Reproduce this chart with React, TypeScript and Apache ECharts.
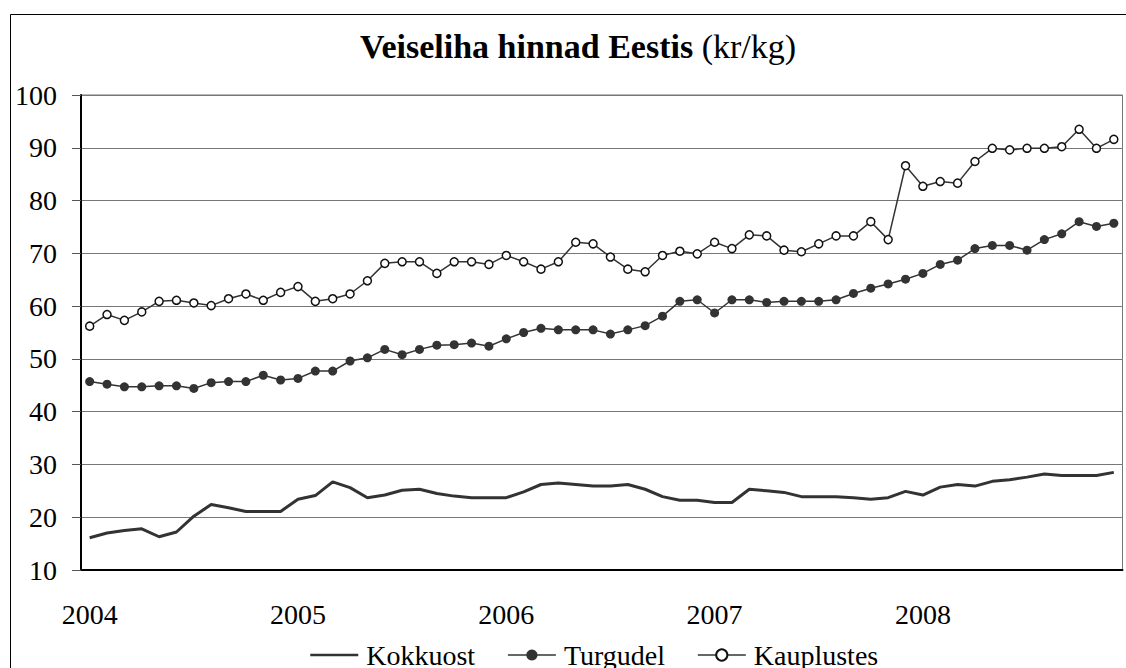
import React, { useEffect, useRef } from "react";
import * as echarts from "echarts";

const years = ["2004", "2005", "2006", "2007", "2008"];
const months = ["01", "02", "03", "04", "05", "06", "07", "08", "09", "10", "11", "12"];
const categories: string[] = [];
years.forEach((y) => months.forEach((m) => categories.push(`${y}-${m}`)));

const yTicks = { min: 10, max: 100, interval: 10 };

const kokkuost = [
  16.1, 17.0, 17.5, 17.8, 16.3, 17.2, 20.2, 22.4, 21.8, 21.1, 21.1, 21.1,
  23.4, 24.1, 26.7, 25.6, 23.7, 24.2, 25.1, 25.3, 24.5, 24.0, 23.7, 23.7,
  23.7, 24.8, 26.2, 26.5, 26.2, 25.9, 25.9, 26.2, 25.3, 23.9, 23.2, 23.2,
  22.8, 22.8, 25.3, 25.0, 24.7, 23.9, 23.9, 23.9, 23.7, 23.4, 23.7, 24.9,
  24.2, 25.7, 26.2, 25.9, 26.8, 27.1, 27.6, 28.2, 27.9, 27.9, 27.9, 28.5,
];
const turgudel = [
  45.7, 45.2, 44.7, 44.7, 44.9, 44.9, 44.4, 45.5, 45.7, 45.7, 46.9, 46.0,
  46.3, 47.7, 47.7, 49.6, 50.2, 51.8, 50.8, 51.8, 52.6, 52.7, 53.0, 52.4,
  53.8, 55.0, 55.8, 55.5, 55.5, 55.5, 54.7, 55.5, 56.3, 58.1, 60.9, 61.2,
  58.7, 61.2, 61.2, 60.7, 60.9, 60.9, 60.9, 61.2, 62.4, 63.4, 64.2, 65.1,
  66.2, 67.9, 68.7, 70.9, 71.5, 71.5, 70.6, 72.6, 73.7, 76.0, 75.1, 75.7,
];
const kauplustes = [
  56.2, 58.4, 57.3, 58.9, 60.9, 61.1, 60.6, 60.1, 61.4, 62.3, 61.1, 62.6,
  63.7, 60.9, 61.4, 62.3, 64.8, 68.1, 68.4, 68.4, 66.2, 68.4, 68.4, 67.9,
  69.6, 68.4, 67.0, 68.4, 72.1, 71.8, 69.3, 67.0, 66.5, 69.6, 70.4, 69.9,
  72.1, 70.9, 73.5, 73.3, 70.6, 70.3, 71.8, 73.3, 73.3, 76.0, 72.6, 86.6,
  82.7, 83.6, 83.3, 87.4, 89.9, 89.6, 89.9, 89.9, 90.2, 93.5, 89.9, 91.6,
];

const FONT = "Liberation Serif";

export default function App() {
  const ref = useRef<HTMLDivElement>(null);
  useEffect(() => {
    if (!ref.current) return;
    const chart = echarts.init(ref.current, null, { renderer: "svg" });
    chart.setOption({
      animation: false,
      backgroundColor: "#ffffff",
      textStyle: { fontFamily: FONT },
      title: {
        text: "{b|Veiseliha hinnad Eestis} {n|(kr/kg)}",
        left: 360,
        top: 29,
        padding: 0,
        textStyle: {
          fontFamily: FONT,
          fontSize: 34,
          rich: {
            b: { fontFamily: FONT, fontSize: 34, fontWeight: "bold", color: "#000" },
            n: { fontFamily: FONT, fontSize: 34, fontWeight: "normal", color: "#000" },
          },
        },
      },
      graphic: [
        {
          type: "rect",
          shape: { x: 10.5, y: 14.5, width: 1300, height: 800 },
          style: { fill: "none", stroke: "#000", lineWidth: 1 },
          silent: true,
        },
      ],
      legend: {
        left: 309,
        top: 641,
        padding: 0,
        itemWidth: 48,
        itemHeight: 14,
        itemGap: 32,
        textStyle: { fontFamily: FONT, fontSize: 28, color: "#000", padding: [0, 0, 0, 3] },
        data: [
          { name: "Kokkuost", itemStyle: { opacity: 0 }, lineStyle: { width: 2.5 } },
          { name: "Turgudel", lineStyle: { width: 1.5 } },
          { name: "Kauplustes", lineStyle: { width: 1.5 } },
        ],
      },
      grid: {
        left: 81,
        right: 3.5,
        top: 95,
        bottom: 98,
        show: true,
        borderColor: "#777",
        borderWidth: 1,
      },
      xAxis: {
        type: "category",
        data: categories,
        boundaryGap: true,
        axisLine: { lineStyle: { color: "#000", width: 2 } },
        axisTick: { interval: 11, length: 8, lineStyle: { color: "#000", width: 1 } },
        axisLabel: {
          interval: 11,
          formatter: (v: string) => v.slice(0, 4),
          fontFamily: FONT,
          fontSize: 28,
          color: "#000",
          margin: 30,
        },
        splitLine: { show: false },
      },
      yAxis: {
        type: "value",
        min: yTicks.min,
        max: yTicks.max,
        interval: yTicks.interval,
        axisLine: { show: true, lineStyle: { color: "#000", width: 2 } },
        axisTick: { show: true, length: 9, lineStyle: { color: "#555", width: 1 } },
        axisLabel: { fontFamily: FONT, fontSize: 28, color: "#000", margin: 24 },
        splitLine: { lineStyle: { color: "#777", width: 1 } },
      },
      series: [
        {
          name: "Kokkuost",
          type: "line",
          data: kokkuost,
          symbol: "none",
          lineStyle: { color: "#333", width: 3 },
          itemStyle: { color: "#333" },
          z: 3,
        },
        {
          name: "Turgudel",
          type: "line",
          data: turgudel,
          symbol: "circle",
          symbolSize: 9,
          lineStyle: { color: "#333", width: 1.5 },
          itemStyle: { color: "#333", borderColor: "#333", borderWidth: 0 },
          z: 4,
        },
        {
          name: "Kauplustes",
          type: "line",
          data: kauplustes,
          symbol: "circle",
          symbolSize: 8,
          showAllSymbol: true,
          lineStyle: { color: "#333", width: 1.5 },
          itemStyle: { color: "#fff", borderColor: "#111", borderWidth: 1.5 },
          z: 5,
        },
      ],
    });
    return () => chart.dispose();
  }, []);
  return (
    <div
      ref={ref}
      style={{ position: "fixed", left: 0, top: 0, width: 1126, height: 668, background: "#fff" }}
    />
  );
}
